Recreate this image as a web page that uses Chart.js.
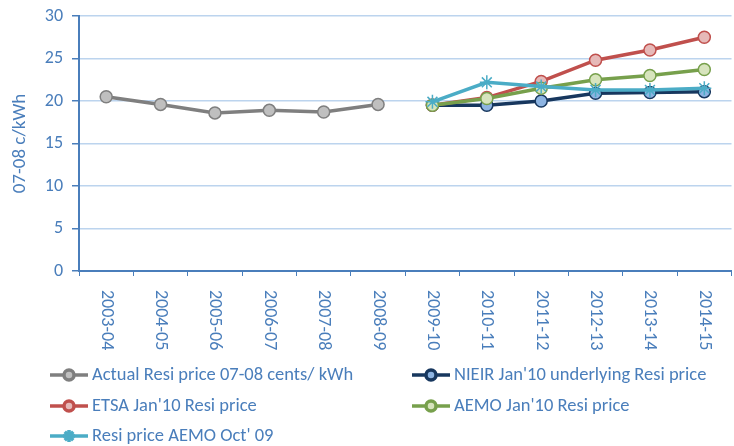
<!DOCTYPE html>
<html>
<head>
<meta charset="utf-8">
<script src="https://cdn.jsdelivr.net/npm/chart.js@4"></script>
<style>
  body { margin: 0; background: #fff; overflow: hidden; }
  #wrap { width: 734px; height: 446px; overflow: hidden; }
</style>
</head>
<body>
<div id="wrap"><canvas id="chart" width="740" height="446"></canvas></div>
<script>
const categories = ["2003-04", "2004-05", "2005-06", "2006-07", "2007-08", "2008-09",
  "2009-10", "2010-11", "2011-12", "2012-13", "2013-14", "2014-15"];
const actualResi = [20.5, 19.6, 18.6, 18.9, 18.7, 19.6, null, null, null, null, null, null];
const nieirJan10 = [null, null, null, null, null, null, 19.5, 19.5, 20.0, 20.9, 21.0, 21.1];
const etsaJan10 = [null, null, null, null, null, null, 19.5, 20.4, 22.3, 24.8, 26.0, 27.5];
const aemoJan10 = [null, null, null, null, null, null, 19.5, 20.3, 21.5, 22.5, 23.0, 23.7];
const aemoOct09 = [null, null, null, null, null, null, 19.9, 22.2, 21.7, 21.3, 21.3, 21.5];
const yTicks = [0, 5, 10, 15, 20, 25, 30];

const blue = "#4A7EBB";
const font = 'Carlito, "Liberation Sans", sans-serif';

// x labels read top-to-bottom, so draw them ourselves
const xLabelPlugin = {
  id: "xLabels",
  afterDraw(chart) {
    const ctx = chart.ctx;
    const xs = chart.scales.x;
    ctx.save();
    ctx.fillStyle = blue;
    ctx.font = "18px " + font;
    ctx.textAlign = "left";
    ctx.textBaseline = "middle";
    categories.forEach((c, i) => {
      ctx.save();
      ctx.translate(xs.getPixelForTick(i), 290);
      ctx.rotate(Math.PI / 2);
      ctx.fillText(c, 0, 0);
      ctx.restore();
    });
    ctx.restore();
  }
};

// two-column legend like the original
const legendPlugin = {
  id: "legend2col",
  afterDraw(chart) {
    const ctx = chart.ctx;
    const spots = [[69, 375], [431, 375], [69, 406], [431, 406], [69, 436]];
    ctx.save();
    chart.data.datasets.forEach((ds, i) => {
      const [cx, cy] = spots[i];
      ctx.strokeStyle = ds.borderColor;
      ctx.lineWidth = ds.borderWidth;
      ctx.beginPath();
      ctx.moveTo(cx - 19, cy);
      ctx.lineTo(cx + 19, cy);
      ctx.stroke();
      ctx.fillStyle = ds.pointBackgroundColor;
      ctx.strokeStyle = ds.pointBorderColor;
      Chart.helpers.drawPoint(ctx, {
        pointStyle: ds.pointStyle,
        radius: ds.pointRadius - 1,
        borderWidth: ds.pointBorderWidth,
        rotation: 0
      }, cx, cy);
      ctx.fillStyle = blue;
      ctx.font = "18.5px " + font;
      ctx.textAlign = "left";
      ctx.textBaseline = "middle";
      ctx.fillText(ds.label, cx + 23, cy);
    });
    ctx.restore();
  }
};

function series(label, data, line, fill, order, style) {
  return {
    label: label,
    data: data,
    borderColor: line,
    borderWidth: 3.5,
    pointStyle: style || "circle",
    pointRadius: style ? 7 : 6,
    pointBackgroundColor: fill,
    pointBorderColor: line,
    pointBorderWidth: 1.5,
    tension: 0,
    spanGaps: false,
    order: order
  };
}

new Chart(document.getElementById("chart"), {
  type: "line",
  data: {
    labels: categories,
    datasets: [
      series("Actual Resi price 07-08 cents/ kWh", actualResi, "#7F7F7F", "#BFBFBF", 4),
      series("NIEIR Jan'10 underlying Resi price", nieirJan10, "#17375E", "#8DB4E2", 3),
      series("ETSA Jan'10 Resi price", etsaJan10, "#C0504D", "#E6B9B8", 2),
      series("AEMO Jan'10 Resi price", aemoJan10, "#77A04C", "#D7E4BD", 1),
      series("Resi price AEMO Oct' 09", aemoOct09, "#4BACC6", "#4BACC6", 0, "star")
    ]
  },
  plugins: [xLabelPlugin, legendPlugin],
  options: {
    responsive: false,
    animation: false,
    layout: { padding: { top: 16, right: 2, left: 0, bottom: 0 } },
    plugins: { legend: { display: false }, tooltip: { enabled: false } },
    scales: {
      x: {
        offset: true,
        grid: { offset: true, drawOnChartArea: false, tickLength: 5, tickColor: blue },
        border: { color: blue, width: 2 },
        ticks: { display: false },
        afterFit(scale) { scale.height = 175; }
      },
      y: {
        min: 0,
        max: 30,
        afterBuildTicks(scale) { scale.ticks = yTicks.map(v => ({ value: v })); },
        grid: { color: "#BCD4EE", lineWidth: 1.5, tickLength: 7, tickColor: blue },
        border: { color: blue, width: 2 },
        ticks: { color: blue, font: { family: font, size: 18 }, padding: 9 },
        title: { display: true, text: "07-08 c/kWh", color: blue, font: { family: font, size: 19 }, padding: { top: 9, bottom: 0 } },
        afterFit(scale) { scale.width = 79; scale.paddingTop = 0; }
      }
    }
  }
});
</script>
</body>
</html>
